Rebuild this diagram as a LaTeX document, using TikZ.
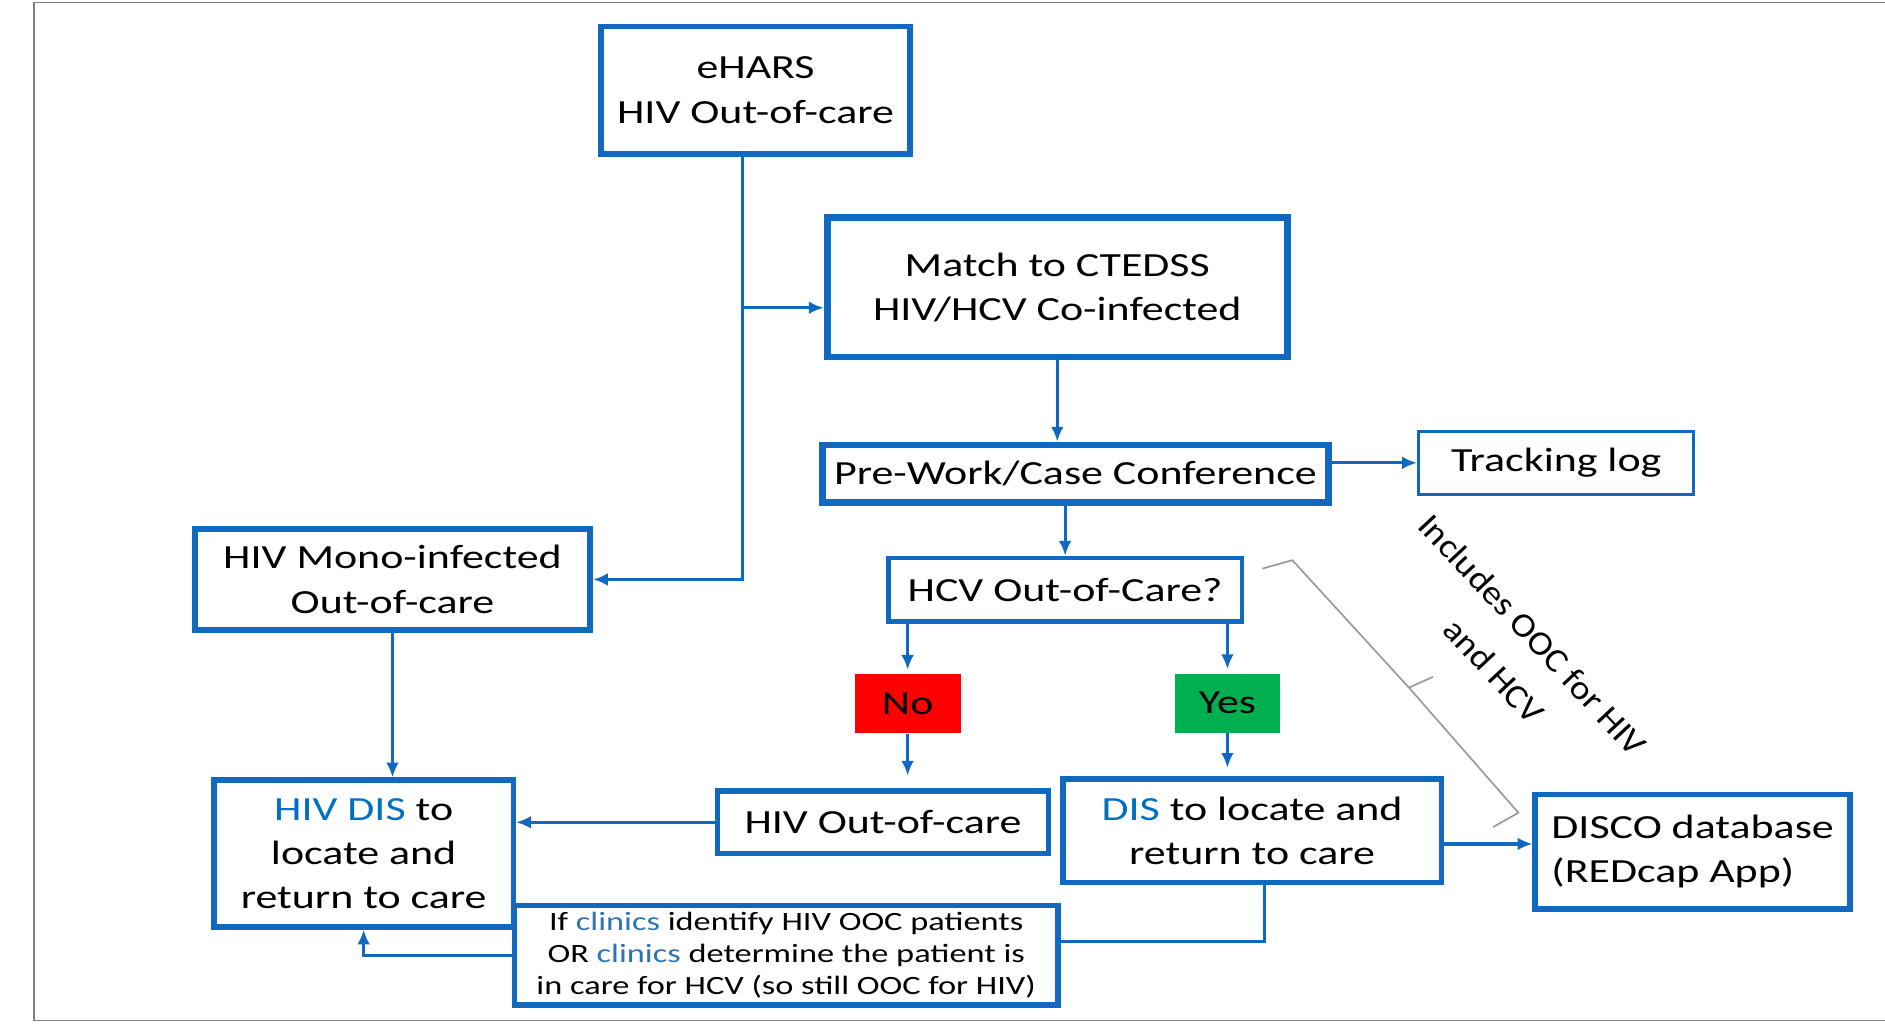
\documentclass[tikz,border=0pt]{standalone}
\usepackage{fontspec}
\setmainfont{Carlito}[FakeStretch=1.3]
\newfontfamily\rotfont{Carlito}[FakeStretch=1.1]
\usetikzlibrary{arrows.meta}
\definecolor{boxblue}{RGB}{16,104,192}
\definecolor{disblue}{RGB}{0,112,192}
\definecolor{clinicblue}{RGB}{46,117,182}
\definecolor{nored}{RGB}{255,0,0}
\definecolor{yesgreen}{RGB}{0,176,80}
\begin{document}
\begin{tikzpicture}[x=0.02cm, y=-0.02cm, >={Latex[length=7pt,width=6pt]},
  main node/.style={rectangle,draw=boxblue,line width=2.6pt,align=center,inner sep=1pt,font=\fontsize{16}{21}\selectfont},
  thin node/.style={main node,line width=1.5pt},
  choice node/.style={rectangle,minimum width=1.76cm,minimum height=0.98cm,font=\fontsize{16}{21}\selectfont},
  link/.style={draw=boxblue,line width=1.4pt}]
\useasboundingbox (0,0) rectangle (1568,851);
\draw[gray, line width=0.8pt] (1568,2) -| (28,849) -- (1568,849);

\node [main node, minimum width=5.14cm, minimum height=2.12cm] (ehars) at (628.5,75) {eHARS\\HIV Out-of-care};
\node [main node, line width=3.2pt, minimum width=7.66cm, minimum height=2.32cm] (match) at (879.5,239) {Match to CTEDSS\\HIV/HCV Co-infected};
\node [main node, line width=3pt, minimum width=8.42cm, minimum height=0.96cm] (prework) at (894.5,394) {Pre-Work/Case Conference};
\node [thin node, minimum width=4.58cm, minimum height=1.04cm] (track) at (1294.5,385) {Tracking log};
\node [thin node, line width=2pt, minimum width=5.88cm, minimum height=1.06cm] (hcv) at (886,490.5) {HCV Out-of-Care?};
\node [choice node, fill=nored] (no) at (755,585.5) {No};
\node [choice node, fill=yesgreen] (yes) at (1021,585) {Yes};
\node [main node, minimum width=6.58cm, minimum height=1.68cm] (mono) at (326.5,482) {HIV Mono-infected\\Out-of-care};
\node [main node, minimum width=4.98cm, minimum height=2.44cm] (hivdis) at (302.5,710) {\textcolor{disblue}{HIV DIS} to\\locate and\\return to care};
\node [main node, minimum width=5.5cm, minimum height=1.04cm] (ooc) at (734.5,684) {HIV Out-of-care};
\node [main node, minimum width=6.3cm, minimum height=1.72cm] (dis) at (1041.5,691) {\textcolor{disblue}{DIS} to locate and\\return to care};
\node [main node, align=left, minimum width=5.24cm, minimum height=1.9cm] (disco) at (1408,708.5) {DISCO database\\(REDcap App)};
\node [main node, fill=white, minimum width=9.04cm, minimum height=1.66cm, font=\fontsize{12.5}{15.3}\selectfont] (clinics) at (654,794.5) {If \textcolor{clinicblue}{clinics} identify HIV OOC patients\\OR \textcolor{clinicblue}{clinics} determine the patient is\\in care for HCV (so still OOC for HIV)};
\node [rotate=-47, align=center, font=\rotfont\fontsize{16}{25}\selectfont] (note) at (1259,543) {Includes OOC for HIV\\and HCV};

\coordinate (split) at (618,256);
\coordinate (turn) at (618,482);
\draw[link,->] (split |- ehars.south) -- (turn) -- (mono.east);
\draw[link,->] (split) -- (split -| match.west);
\draw[link,->] (match.south) -- (match.south |- prework.north);
\draw[link,->] (prework.east |- track) -- (track.west);
\draw[link,->] (hcv.north |- prework.south) -- (hcv.north);
\draw[link,->,shorten >=2pt] (no.north |- hcv.south) -- (no.north);
\draw[link,->,shorten >=2pt] (yes.north |- hcv.south) -- (yes.north);
\draw[link,->,shorten >=6pt] (no.south) -- (no.south |- ooc.north);
\draw[link,->,shorten >=4pt] (yes.south) -- (yes.south |- dis.north);
\draw[link,->] (ooc.west) -- (ooc.west -| hivdis.east);
\draw[link,->] (mono.south) -- (mono.south |- hivdis.north);
\draw[link,->,line width=2pt] ([yshift=-0.22cm]dis.east) -- ([yshift=-0.22cm]dis.east -| disco.west);
\draw[link] ([xshift=0.21cm]dis.south) |- ([yshift=0.23cm]clinics.east);
\draw[link,->] (clinics.west) -| (hivdis.south);

% brace towards the note
\draw[gray!80, line width=0.8pt] (1050,473) -- (1075,466) -- (1172,572) -- (1192,563)
  (1172,572) -- (1263,676) -- (1242,688);
\end{tikzpicture}
\end{document}
